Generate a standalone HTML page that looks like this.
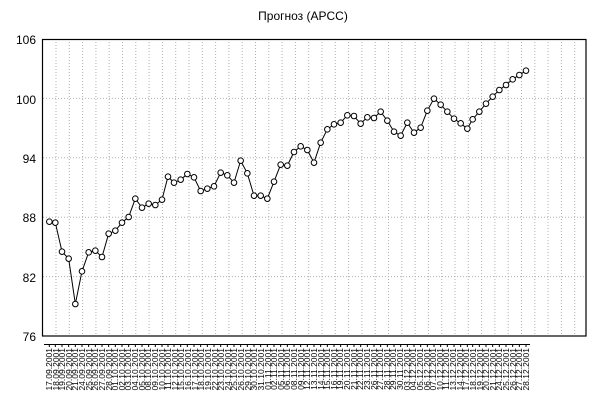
<!DOCTYPE html>
<html><head><meta charset="utf-8"><style>
body{margin:0;background:#fff;}
svg{display:block;font-family:"Liberation Sans",sans-serif;}
</style></head><body>
<svg width="606" height="418" viewBox="0 0 606 418">
<rect width="606" height="418" fill="#fff"/>
<text x="303" y="20" font-size="12" text-anchor="middle">Прогноз (APCC)</text>
<g stroke="#b0b0b0" stroke-width="1" stroke-dasharray="1,2" fill="none">
<line x1="43" y1="98.4" x2="586" y2="98.4"/>
<line x1="43" y1="157.8" x2="586" y2="157.8"/>
<line x1="43" y1="217.2" x2="586" y2="217.2"/>
<line x1="43" y1="276.6" x2="586" y2="276.6"/>
<path d="M56,39V336M69.3,39V336M82.6,39V336M95.9,39V336M109.2,39V336M122.5,39V336M135.8,39V336M149.1,39V336M162.4,39V336M175.7,39V336M189,39V336M202.3,39V336M215.6,39V336M228.9,39V336M242.2,39V336M255.5,39V336M268.8,39V336M282.1,39V336M295.4,39V336M308.7,39V336M322,39V336M335.3,39V336M348.6,39V336M361.9,39V336M375.2,39V336M388.5,39V336M401.8,39V336M415.1,39V336M428.4,39V336M441.7,39V336M455,39V336M468.3,39V336M481.6,39V336M494.9,39V336M508.2,39V336M521.5,39V336M534.8,39V336M548.1,39V336M561.4,39V336M574.7,39V336"/>
</g>
<rect x="42.5" y="39.5" width="543.5" height="296.5" fill="none" stroke="#000" stroke-width="1.2"/>
<g font-size="12" text-anchor="end">
<text x="36" y="44">106</text><text x="36" y="104">100</text><text x="36" y="163">94</text>
<text x="36" y="222">88</text><text x="36" y="282">82</text><text x="36" y="341">76</text>
</g>
<g transform="translate(0,30) scale(0.3333)">
<polyline fill="none" stroke="#000" stroke-width="3" points="148,575 166,578 186,665 206,686 226,822 246,724 266,667 286,662 306,681 326,611 346,602 366,578 386,561 406,506 426,533 446,521 466,525 486,509 504,440 522,458 542,449 562,432 582,442 602,483 622,476 642,469 662,428 682,436 702,458 722,392 742,430 762,497 782,497 802,506 822,455 842,404 862,407 882,366 902,349 922,360 942,398 962,338 982,298 1002,283 1022,278 1042,256 1062,258 1082,281 1102,262 1122,264 1142,245 1162,272 1182,305 1202,317 1222,278 1242,308 1262,293 1282,242 1302,206 1322,224 1342,245 1362,266 1382,280 1402,296 1418,268 1438,245 1458,221 1478,200 1498,180 1518,165 1538,148 1558,135 1578,122"/>
</g>
<g id="mk" fill="#fff" stroke="#000" stroke-width="1"></g>
<g stroke="#000" stroke-width="1">
<line x1="44" y1="344.5" x2="530" y2="344.5"/>
</g>
<script>
var P="148,575 166,578 186,665 206,686 226,822 246,724 266,667 286,662 306,681 326,611 346,602 366,578 386,561 406,506 426,533 446,521 466,525 486,509 504,440 522,458 542,449 562,432 582,442 602,483 622,476 642,469 662,428 682,436 702,458 722,392 742,430 762,497 782,497 802,506 822,455 842,404 862,407 882,366 902,349 922,360 942,398 962,338 982,298 1002,283 1022,278 1042,256 1062,258 1082,281 1102,262 1122,264 1142,245 1162,272 1182,305 1202,317 1222,278 1242,308 1262,293 1282,242 1302,206 1322,224 1342,245 1362,266 1382,280 1402,296 1418,268 1438,245 1458,221 1478,200 1498,180 1518,165 1538,148 1558,135 1578,122".split(" ");
var ns="http://www.w3.org/2000/svg",mk=document.getElementById("mk");
P.forEach(function(s){var a=s.split(",");var x=a[0]/3,y=30+a[1]/3;
var c=document.createElementNS(ns,"circle");c.setAttribute("cx",x);c.setAttribute("cy",y);c.setAttribute("r",2.8);mk.appendChild(c);
var t=document.createElementNS(ns,"line");t.setAttribute("x1",x);t.setAttribute("x2",x);t.setAttribute("y1",344.5);t.setAttribute("y2",347);t.setAttribute("stroke","#000");mk.appendChild(t);});
</script>
<g font-size="8.5" text-anchor="end">
<text transform="translate(52,348) rotate(-90)">17.09.2001</text><text transform="translate(59,348) rotate(-90)">18.09.2001</text><text transform="translate(65,348) rotate(-90)">19.09.2001</text><text transform="translate(72,348) rotate(-90)">20.09.2001</text><text transform="translate(78,348) rotate(-90)">21.09.2001</text><text transform="translate(85,348) rotate(-90)">24.09.2001</text><text transform="translate(92,348) rotate(-90)">25.09.2001</text><text transform="translate(98,348) rotate(-90)">26.09.2001</text><text transform="translate(105,348) rotate(-90)">27.09.2001</text><text transform="translate(112,348) rotate(-90)">28.09.2001</text><text transform="translate(118,348) rotate(-90)">01.10.2001</text><text transform="translate(125,348) rotate(-90)">02.10.2001</text><text transform="translate(131,348) rotate(-90)">03.10.2001</text><text transform="translate(138,348) rotate(-90)">04.10.2001</text><text transform="translate(145,348) rotate(-90)">05.10.2001</text><text transform="translate(151,348) rotate(-90)">08.10.2001</text><text transform="translate(158,348) rotate(-90)">09.10.2001</text><text transform="translate(165,348) rotate(-90)">10.10.2001</text><text transform="translate(171,348) rotate(-90)">11.10.2001</text><text transform="translate(178,348) rotate(-90)">12.10.2001</text><text transform="translate(184,348) rotate(-90)">15.10.2001</text><text transform="translate(191,348) rotate(-90)">16.10.2001</text><text transform="translate(198,348) rotate(-90)">17.10.2001</text><text transform="translate(204,348) rotate(-90)">18.10.2001</text><text transform="translate(211,348) rotate(-90)">19.10.2001</text><text transform="translate(218,348) rotate(-90)">22.10.2001</text><text transform="translate(224,348) rotate(-90)">23.10.2001</text><text transform="translate(231,348) rotate(-90)">24.10.2001</text><text transform="translate(237,348) rotate(-90)">25.10.2001</text><text transform="translate(244,348) rotate(-90)">26.10.2001</text><text transform="translate(251,348) rotate(-90)">29.10.2001</text><text transform="translate(257,348) rotate(-90)">30.10.2001</text><text transform="translate(264,348) rotate(-90)">31.10.2001</text><text transform="translate(271,348) rotate(-90)">01.11.2001</text><text transform="translate(277,348) rotate(-90)">02.11.2001</text><text transform="translate(284,348) rotate(-90)">05.11.2001</text><text transform="translate(290,348) rotate(-90)">06.11.2001</text><text transform="translate(297,348) rotate(-90)">08.11.2001</text><text transform="translate(304,348) rotate(-90)">09.11.2001</text><text transform="translate(310,348) rotate(-90)">12.11.2001</text><text transform="translate(317,348) rotate(-90)">13.11.2001</text><text transform="translate(324,348) rotate(-90)">14.11.2001</text><text transform="translate(330,348) rotate(-90)">15.11.2001</text><text transform="translate(337,348) rotate(-90)">16.11.2001</text><text transform="translate(343,348) rotate(-90)">19.11.2001</text><text transform="translate(350,348) rotate(-90)">20.11.2001</text><text transform="translate(357,348) rotate(-90)">21.11.2001</text><text transform="translate(363,348) rotate(-90)">22.11.2001</text><text transform="translate(370,348) rotate(-90)">23.11.2001</text><text transform="translate(377,348) rotate(-90)">26.11.2001</text><text transform="translate(383,348) rotate(-90)">27.11.2001</text><text transform="translate(390,348) rotate(-90)">28.11.2001</text><text transform="translate(396,348) rotate(-90)">29.11.2001</text><text transform="translate(403,348) rotate(-90)">30.11.2001</text><text transform="translate(410,348) rotate(-90)">03.12.2001</text><text transform="translate(416,348) rotate(-90)">04.12.2001</text><text transform="translate(423,348) rotate(-90)">05.12.2001</text><text transform="translate(430,348) rotate(-90)">06.12.2001</text><text transform="translate(436,348) rotate(-90)">07.12.2001</text><text transform="translate(443,348) rotate(-90)">10.12.2001</text><text transform="translate(449,348) rotate(-90)">11.12.2001</text><text transform="translate(456,348) rotate(-90)">13.12.2001</text><text transform="translate(463,348) rotate(-90)">14.12.2001</text><text transform="translate(469,348) rotate(-90)">17.12.2001</text><text transform="translate(476,348) rotate(-90)">18.12.2001</text><text transform="translate(483,348) rotate(-90)">19.12.2001</text><text transform="translate(489,348) rotate(-90)">20.12.2001</text><text transform="translate(496,348) rotate(-90)">21.12.2001</text><text transform="translate(502,348) rotate(-90)">24.12.2001</text><text transform="translate(509,348) rotate(-90)">25.12.2001</text><text transform="translate(516,348) rotate(-90)">26.12.2001</text><text transform="translate(522,348) rotate(-90)">27.12.2001</text><text transform="translate(529,348) rotate(-90)">28.12.2001</text>
</g>
</svg>
</body></html>
